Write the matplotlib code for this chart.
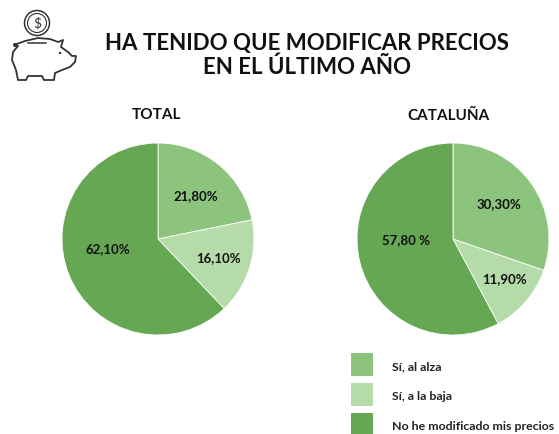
import numpy as np
import matplotlib.pyplot as plt
from matplotlib.patches import Rectangle, Circle, Polygon

plt.rcParams['font.family'] = ['Lato', 'DejaVu Sans']

titulo = "HA TENIDO QUE MODIFICAR PRECIOS\nEN EL ÚLTIMO AÑO"
categorias = ["Sí, al alza", "Sí, a la baja", "No he modificado mis precios"]
colores = ["#8cc47e", "#b5dba8", "#66a753"]

total = [21.8, 16.1, 62.1]
total_labels = ["21,80%", "16,10%", "62,10%"]
cataluna = [30.3, 11.9, 57.8]
cataluna_labels = ["30,30%", "11,90%", "57,80 %"]

W, H = 559, 434
fig = plt.figure(figsize=(W / 100, H / 100), dpi=100)

# fondo en pixeles para textos e icono
bg = fig.add_axes([0, 0, 1, 1])
bg.set_xlim(0, W)
bg.set_ylim(H, 0)
bg.axis("off")

bg.text(307, 55.5, titulo, ha="center", va="center", fontsize=16, fontweight="bold",
        color="#111111", linespacing=1.1)
bg.text(156, 115, "TOTAL", ha="center", va="center", fontsize=11, fontweight="bold", color="#111111")
bg.text(449, 116, "CATALUÑA", ha="center", va="center", fontsize=11, fontweight="bold", color="#111111")


def tarta(cx, cy, r, valores, etiquetas, dist, giro):
    ax = fig.add_axes([(cx - r) / W, 1 - (cy + r) / H, 2 * r / W, 2 * r / H])
    wedges, _ = ax.pie(valores, colors=colores, startangle=90, counterclock=False, radius=1,
                       wedgeprops=dict(edgecolor="white", linewidth=0.6))
    ax.set_xlim(-1, 1)
    ax.set_ylim(-1, 1)
    for w, e, d, g in zip(wedges, etiquetas, dist, giro):
        ang = np.deg2rad((w.theta1 + w.theta2) / 2 + g)
        ax.text(d * np.cos(ang), d * np.sin(ang), e, ha="center", va="center",
                fontsize=9.5, fontweight="bold", color="#111111")


tarta(158, 239, 96, total, total_labels, [0.60, 0.66, 0.53], [-2, 0, -10])
tarta(453, 239, 96, cataluna, cataluna_labels, [0.60, 0.68, 0.49], [2, 3, -13])

# leyenda
for y, c, t in zip([364.5, 394.5, 424.5], colores, categorias):
    bg.add_patch(Rectangle((351, y - 11.5), 22, 23, color=c, lw=0))
    bg.text(392, y + 2.5, t, ha="left", va="center", fontsize=8.9, fontweight="bold", color="#222222")

# hucha
oscuro = "#333333"
cuerpo = [[14, 45], [25, 41], [38, 38], [50, 39], [58, 42], [63, 40], [61, 47], [68, 52],
          [72, 56], [76, 56], [75, 62], [70, 67], [62, 70], [55, 73], [54, 80], [44, 80],
          [42, 76], [28, 76], [26, 80], [18, 80], [16, 70], [12, 60], [13, 52], [18, 46]]
bg.add_patch(Polygon(cuerpo, closed=True, fill=False, ec=oscuro, lw=1.3, joinstyle="round"))
bg.add_patch(Circle((37, 23), 12.5, fill=False, ec=oscuro, lw=1.1))
bg.add_patch(Circle((37, 23), 9.5, fill=False, ec=oscuro, lw=0.8))
bg.text(37, 23, "$", ha="center", va="center", fontsize=10, color=oscuro)
bg.plot([28, 46], [43, 43], color=oscuro, lw=1.1)
bg.add_patch(Circle((60, 53), 1.2, color=oscuro, lw=0))
bg.add_patch(Circle((15, 45), 2, color=oscuro, lw=0))

fig.savefig("out.png", dpi=100)
